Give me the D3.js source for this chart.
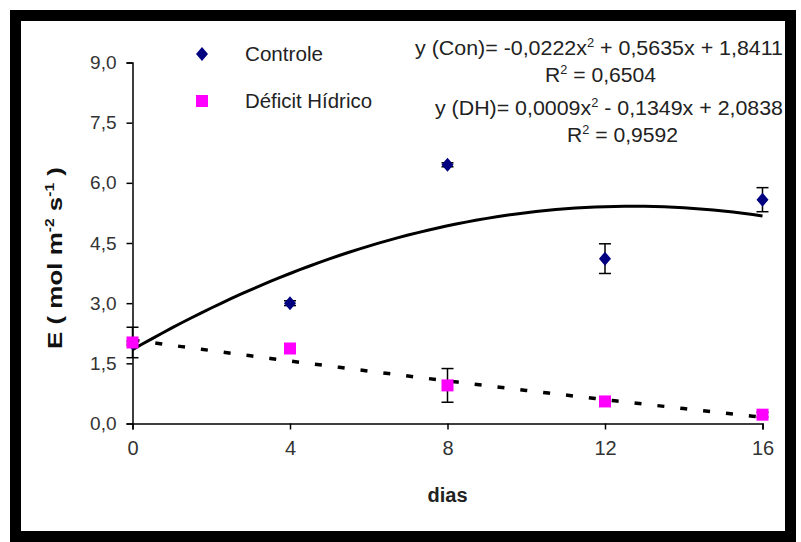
<!DOCTYPE html>
<html>
<head>
<meta charset="utf-8">
<script src="https://cdn.jsdelivr.net/npm/d3@7"></script>
<style>
  html, body { margin: 0; padding: 0; background: #fff; }
  svg { display: block; font-family: Arial, "Liberation Sans", sans-serif; }
</style>
</head>
<body>
<svg id="chart" width="801" height="542"></svg>
<script>
// Transpiração (E) ao longo dos dias de avaliação
const days = [0, 4, 8, 12, 16];
const controle = [2.0, 3.0, 6.45, 4.11, 5.58];
const controleErr = [0.05, 0.06, 0.05, 0.37, 0.30];
const deficit = [2.02, 1.87, 0.95, 0.55, 0.22];
const deficitErr = [0.38, 0.05, 0.42, 0.04, 0.06];

// Coeficientes das regressões polinomiais (a0 + a1·x + a2·x²)
const conCoef = [1.8411, 0.5635, -0.0222];
const dhCoef = [2.0838, -0.1349, 0.0009];

const xTicks = [0, 4, 8, 12, 16];
const yTicks = [0, 1.5, 3.0, 4.5, 6.0, 7.5, 9.0];

const svg = d3.select("#chart");
const W = 801, H = 542;
const FONT = "Arial, 'Liberation Sans', sans-serif";

svg.append("rect").attr("width", W).attr("height", H).attr("fill", "#fff");
// moldura preta
svg.append("rect")
  .attr("x", 15.5).attr("y", 15.5).attr("width", 775).attr("height", 521)
  .attr("fill", "#fff").attr("stroke", "#000").attr("stroke-width", 11);

const x = d3.scaleLinear().domain([0, 16]).range([132.5, 762.5]);
const y = d3.scaleLinear().domain([0, 9]).range([423.5, 62.5]);

const fmt = d => d3.format(".1f")(d).replace(".", ",");

// eixo Y
const gy = svg.append("g").attr("transform", `translate(${x(0)},0)`)
  .call(d3.axisLeft(y).tickValues(yTicks).tickFormat(fmt).tickSize(6).tickPadding(10));
gy.select(".domain").attr("stroke", "#000").attr("stroke-width", 1.5);
gy.selectAll(".tick line").attr("stroke", "#000").attr("stroke-width", 1.5);
gy.selectAll(".tick text").attr("font-size", 19).attr("fill", "#333").attr("font-family", FONT);

// eixo X
const gx = svg.append("g").attr("transform", `translate(0,${y(0)})`)
  .call(d3.axisBottom(x).tickValues(xTicks).tickFormat(d3.format("d")).tickSize(6).tickPadding(11));
gx.select(".domain").attr("stroke", "#000").attr("stroke-width", 1.5);
gx.selectAll(".tick line").attr("stroke", "#000").attr("stroke-width", 1.5);
gx.selectAll(".tick text").attr("font-size", 20).attr("fill", "#333").attr("font-family", FONT);

// títulos dos eixos
svg.append("text")
  .attr("x", x(8)).attr("y", 502)
  .attr("text-anchor", "middle").attr("font-size", 20).attr("font-weight", "bold")
  .attr("fill", "#222").text("dias");

const yl = svg.append("text")
  .attr("transform", "translate(62,258) rotate(-90)")
  .attr("text-anchor", "middle").attr("font-size", 20).attr("font-weight", "bold")
  .attr("fill", "#111").attr("textLength", 182).attr("lengthAdjust", "spacingAndGlyphs");
yl.append("tspan").text("E ( mol m");
yl.append("tspan").attr("font-size", 12).attr("dy", -8).text("-2");
yl.append("tspan").attr("dy", 8).text(" s");
yl.append("tspan").attr("font-size", 12).attr("dy", -8).text("-1");
yl.append("tspan").attr("dy", 8).text(" )");

// curvas de tendência
const poly = c => t => c[0] + c[1] * t + c[2] * t * t;
const xs = d3.range(0, 16.001, 0.25);
const line = d3.line().x(d => x(d[0])).y(d => y(d[1]));

svg.append("path")
  .datum(xs.map(t => [t, poly(conCoef)(t)]))
  .attr("d", line).attr("fill", "none").attr("stroke", "#000").attr("stroke-width", 3);

svg.append("path")
  .datum(xs.map(t => [t, poly(dhCoef)(t)]))
  .attr("d", line).attr("fill", "none").attr("stroke", "#000").attr("stroke-width", 3.5)
  .attr("stroke-dasharray", "7,16");

// barras de erro
function errorBars(vals, errs) {
  const g = svg.append("g").attr("stroke", "#000").attr("stroke-width", 1.5);
  days.forEach((d, i) => {
    const cx = x(d), y1 = y(vals[i] - errs[i]), y2 = y(vals[i] + errs[i]);
    g.append("line").attr("x1", cx).attr("x2", cx).attr("y1", y1).attr("y2", y2);
    g.append("line").attr("x1", cx - 6).attr("x2", cx + 6).attr("y1", y1).attr("y2", y1);
    g.append("line").attr("x1", cx - 6).attr("x2", cx + 6).attr("y1", y2).attr("y2", y2);
  });
}
errorBars(controle, controleErr);
errorBars(deficit, deficitErr);

const diamond = (cx, cy) => `M${cx},${cy - 7}L${cx + 6},${cy}L${cx},${cy + 7}L${cx - 6},${cy}Z`;

// pontos
svg.append("g").selectAll("path").data(days).join("path")
  .attr("d", (d, i) => diamond(x(d), y(controle[i]))).attr("fill", "#000080");

svg.append("g").selectAll("rect").data(days).join("rect")
  .attr("x", (d) => x(d) - 6).attr("y", (d, i) => y(deficit[i]) - 6)
  .attr("width", 12).attr("height", 12).attr("fill", "#ff00ff");

// legenda
svg.append("path").attr("d", diamond(202, 54)).attr("fill", "#000080");
svg.append("text").attr("x", 245).attr("y", 61).attr("font-size", 20).attr("fill", "#222")
  .attr("textLength", 78).attr("lengthAdjust", "spacingAndGlyphs").text("Controle");
svg.append("rect").attr("x", 196).attr("y", 95).attr("width", 12).attr("height", 12).attr("fill", "#ff00ff");
svg.append("text").attr("x", 245).attr("y", 108).attr("font-size", 20).attr("fill", "#222")
  .attr("textLength", 127).attr("lengthAdjust", "spacingAndGlyphs").text("Déficit Hídrico");

// equações
function equation(xPos, yPos, parts, len) {
  const t = svg.append("text").attr("x", xPos).attr("y", yPos)
    .attr("font-size", 20).attr("fill", "#222")
    .attr("textLength", len).attr("lengthAdjust", "spacingAndGlyphs");
  parts.forEach(p => {
    if (p.sup) t.append("tspan").attr("font-size", 12).attr("dy", -8).text(p.sup);
    else t.append("tspan").attr("dy", p.after ? 8 : 0).text(p.t);
  });
  return t;
}
equation(415, 55, [{t: "y (Con)= -0,0222x"}, {sup: "2"}, {t: " + 0,5635x + 1,8411", after: true}], 368);
equation(545, 82, [{t: "R"}, {sup: "2"}, {t: " = 0,6504", after: true}], 111);
equation(435, 115, [{t: "y (DH)= 0,0009x"}, {sup: "2"}, {t: " - 0,1349x + 2,0838", after: true}], 348);
equation(567, 142, [{t: "R"}, {sup: "2"}, {t: " = 0,9592", after: true}], 111);
</script>
</body>
</html>
